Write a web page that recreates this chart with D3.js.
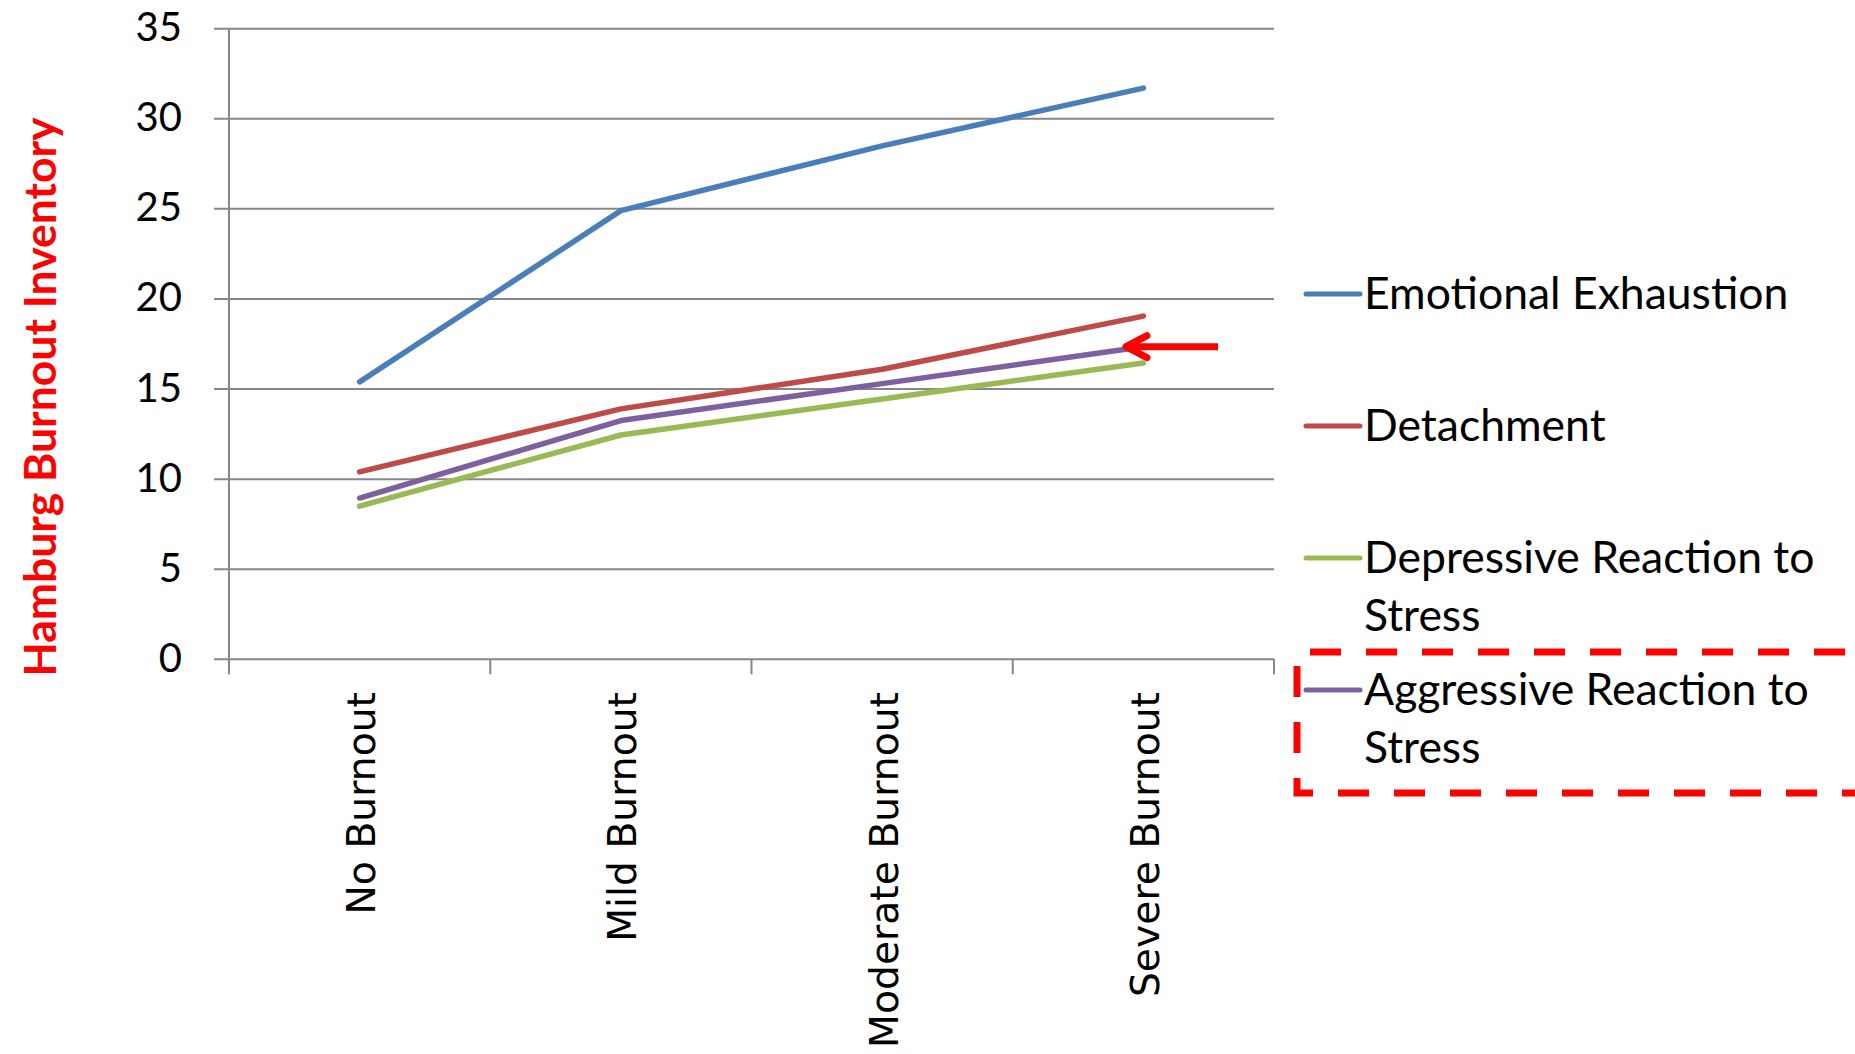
<!DOCTYPE html>
<html>
<head>
<meta charset="utf-8">
<script src="https://cdn.jsdelivr.net/npm/d3@7"></script>
<style>
  html, body { margin: 0; padding: 0; background: #ffffff; }
  svg { display: block; }
</style>
</head>
<body>
<svg id="chart" width="1855" height="1054"></svg>
<script>
// Burnout stage categories along the x axis
const categories = ["No Burnout", "Mild Burnout", "Moderate Burnout", "Severe Burnout"];

// Mean Hamburg Burnout Inventory subscale scores per stage
const emotionalExhaustion = [15.4, 24.9, 28.5, 31.7];
const detachment          = [10.4, 13.9, 16.1, 19.05];
const depressiveReaction  = [8.5, 12.45, 14.45, 16.45];
const aggressiveReaction  = [8.95, 13.25, 15.3, 17.35];

const seriesNames = [
  "Emotional Exhaustion",
  "Detachment",
  "Depressive Reaction to Stress",
  "Aggressive Reaction to Stress"
];
// Legend labels wrapped onto lines
const legendLines = [
  ["Emotional Exhaustion"],
  ["Detachment"],
  ["Depressive Reaction to", "Stress"],
  ["Aggressive Reaction to", "Stress"]
];
const seriesValues = [emotionalExhaustion, detachment, depressiveReaction, aggressiveReaction];
const seriesColors = ["#4a7ebb", "#be4b48", "#98b954", "#7d60a0"];

const yTicks = [0, 5, 10, 15, 20, 25, 30, 35];
const yTitle = "Hamburg Burnout Inventory";

const svg = d3.select("#chart");
const plot = { left: 229, right: 1274, top: 28.7, bottom: 659.3 };

const x = d3.scaleBand().domain(categories).range([plot.left, plot.right]).padding(0);
const y = d3.scaleLinear().domain([0, 35]).range([plot.bottom, plot.top]);

const gridColor = "#878787";

// Horizontal gridlines (extend left past the axis as tick marks)
svg.append("g").selectAll("line").data(yTicks).join("line")
  .attr("x1", plot.left - 15).attr("x2", plot.right)
  .attr("y1", d => y(d)).attr("y2", d => y(d))
  .attr("stroke", gridColor).attr("stroke-width", 2);

// Vertical axis line
svg.append("line")
  .attr("x1", plot.left).attr("x2", plot.left)
  .attr("y1", plot.top).attr("y2", plot.bottom + 15)
  .attr("stroke", gridColor).attr("stroke-width", 2);

// Category boundary tick marks below the x axis
const bounds = categories.map(c => x(c)).concat([x(categories[categories.length - 1]) + x.bandwidth()]);
svg.append("g").selectAll("line").data(bounds).join("line")
  .attr("x1", d => d).attr("x2", d => d)
  .attr("y1", plot.bottom).attr("y2", plot.bottom + 15)
  .attr("stroke", gridColor).attr("stroke-width", 2);

// Y tick labels
svg.append("g").selectAll("text").data(yTicks).join("text")
  .attr("x", 182).attr("y", d => y(d) + 12.5)
  .attr("text-anchor", "end")
  .attr("font-family", "Lato, 'Open Sans', sans-serif")
  .attr("font-size", 40)
  .attr("fill", "#000")
  .text(d => d);

// Rotated category labels
svg.append("g").selectAll("text").data(categories).join("text")
  .attr("transform", d => `translate(${x(d) + x.bandwidth() / 2 + 2},692) rotate(-90)`)
  .attr("text-anchor", "end")
  .attr("dominant-baseline", "central")
  .attr("font-family", "DejaVu Sans, Verdana, sans-serif")
  .attr("font-size", 39.3)
  .attr("fill", "#000")
  .text(d => d);

// Y axis title
svg.append("text")
  .attr("transform", "translate(38,397) rotate(-90)")
  .attr("text-anchor", "middle")
  .attr("dominant-baseline", "central")
  .attr("font-family", "Lato, 'Open Sans', sans-serif")
  .attr("font-weight", "bold")
  .attr("font-size", 44.5)
  .attr("fill", "#ff0000")
  .text(yTitle);

// Series lines
const line = d3.line()
  .x((d, i) => x(categories[i]) + x.bandwidth() / 2)
  .y(d => y(d));

svg.append("g").selectAll("path").data(seriesValues).join("path")
  .attr("d", d => line(d))
  .attr("fill", "none")
  .attr("stroke", (d, i) => seriesColors[i])
  .attr("stroke-width", 5.5)
  .attr("stroke-linecap", "round")
  .attr("stroke-linejoin", "round");

// Legend
const legendTop = 294, legendStep = 132, lineHeight = 57.5;
const legend = svg.append("g");
seriesNames.forEach((name, i) => {
  const cy = legendTop + i * legendStep;
  legend.append("line")
    .attr("x1", 1306).attr("x2", 1360)
    .attr("y1", cy).attr("y2", cy)
    .attr("stroke", seriesColors[i]).attr("stroke-width", 5)
    .attr("stroke-linecap", "round");
  const t = legend.append("text")
    .attr("font-family", "Lato, 'Open Sans', sans-serif")
    .attr("font-size", 44.5)
    .attr("fill", "#000");
  legendLines[i].forEach((ln, j) => {
    t.append("tspan").attr("x", 1364).attr("y", cy + 15 + j * lineHeight).text(ln);
  });
});

// Callout arrow pointing at the aggressive-reaction line end
const arrowY = 346.7;
const arrow = svg.append("g")
  .attr("stroke", "#ff0000").attr("stroke-width", 7).attr("fill", "none")
  .attr("stroke-linecap", "round").attr("stroke-linejoin", "round");
arrow.append("line").attr("x1", 1218).attr("x2", 1126).attr("y1", arrowY).attr("y2", arrowY)
  .attr("stroke-linecap", "butt");
arrow.append("path").attr("d", `M1147,${arrowY - 11} L1126,${arrowY} L1147,${arrowY + 11}`);

// Dashed highlight box around the aggressive-reaction legend entry
const box = svg.append("g")
  .attr("stroke", "#ff0000").attr("stroke-width", 7).attr("fill", "none")
  .attr("stroke-dasharray", "31,25");
box.append("path").attr("d", "M1297,652 L1900,652").attr("stroke-dashoffset", 43);
box.append("path").attr("d", "M1297,666 L1297,793 L1900,793");
</script>
</body>
</html>
